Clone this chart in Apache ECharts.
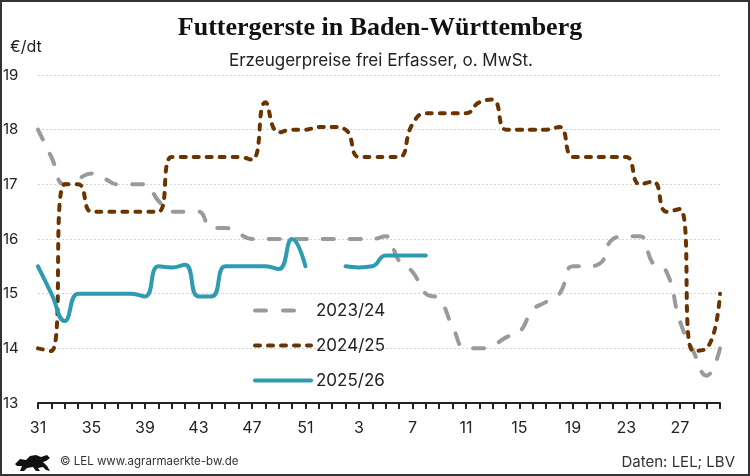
<!DOCTYPE html>
<html>
<head>
<meta charset="utf-8">
<script src="https://cdn.jsdelivr.net/npm/echarts@6/dist/echarts.min.js"></script>
<style>
html,body{margin:0;padding:0;background:#fff;}
#wrap{width:750px;height:476px;box-sizing:border-box;border:2px solid #333;position:relative;overflow:hidden;}
#chart{position:absolute;left:-2px;top:-2px;width:750px;height:476px;}
</style>
</head>
<body>
<div id="wrap"><div id="chart"></div></div>
<script>
const weeks = ['31','32','33','34','35','36','37','38','39','40','41','42','43','44','45','46','47','48','49','50','51','52',
  '1','2','3','4','5','6','7','8','9','10','11','12','13','14','15','16','17','18','19','20','21','22','23','24','25','26','27','28','29','30'];

const s2324 = [18.0,17.5,17.0,17.1,17.2,17.1,17.0,17.0,17.0,16.7,16.5,16.5,16.5,16.2,16.2,16.1,16.0,16.0,16.0,16.0,16.0,16.0,
  16.0,16.0,16.0,16.0,16.05,15.6,15.4,15.0,14.9,14.4,14.0,14.0,14.05,14.2,14.3,14.7,14.85,15.0,15.5,15.5,15.55,16.0,16.05,16.05,15.55,15.4,14.5,13.95,13.5,14.0];

const s2425 = [14.0,13.95,17.0,17.0,16.5,16.5,16.5,16.5,16.5,16.5,17.5,17.5,17.5,17.5,17.5,17.5,17.45,18.5,17.95,18.0,18.0,18.05,
  18.05,18.0,17.5,17.5,17.5,17.5,18.1,18.3,18.3,18.3,18.3,18.5,18.55,18.0,18.0,18.0,18.0,18.05,17.5,17.5,17.5,17.5,17.5,17.0,17.05,16.5,16.55,13.95,14.0,15.0];

const s2526 = [15.5,15.0,14.5,15.0,15.0,15.0,15.0,15.0,14.95,15.5,15.48,15.53,14.95,14.95,15.5,15.5,15.5,15.5,15.45,16.0,15.5,null,
  null,15.5,15.48,15.5,15.7,15.7,15.7,15.7,null,null,null,null,null,null,null,null,null,null,null,null,null,null,null,null,null,null,null,null,null,null];

const yTicks = [13,14,15,16,17,18,19];

const FONT = 'Inter, "Noto Sans", sans-serif';
const chart = echarts.init(document.getElementById('chart'));
const option = {
  animation: false,
  textStyle: {fontFamily: FONT},
  grid: {left: 38, right: 30, top: 75, bottom: 73},
  graphic: [
    {type:'text', x: 380, y: 28, style:{text:'Futtergerste in Baden-Württemberg', fontFamily:'"Liberation Serif", serif', fontWeight:'bold', fontSize:26, fill:'#111', align:'center', verticalAlign:'middle'}},
    {type:'text', x: 381, y: 61, style:{text:'Erzeugerpreise frei Erfasser, o. MwSt.', fontFamily:FONT, fontSize:17, fill:'#222', align:'center', verticalAlign:'middle'}},
    {type:'text', x: 10, y: 47, style:{text:'€/dt', fontFamily:FONT, fontSize:16, fill:'#222', align:'left', verticalAlign:'middle'}},
    {type:'text', x: 60, y: 462, style:{text:'© LEL www.agrarmaerkte-bw.de', fontFamily:FONT, fontSize:11.5, fill:'#333', align:'left', verticalAlign:'middle'}},
    {type:'text', x: 735, y: 462, style:{text:'Daten: LEL; LBV', fontFamily:FONT, fontSize:15, fill:'#333', align:'right', verticalAlign:'middle'}},
    {type:'polygon', shape:{points:[[15,464],[20,459],[26,460],[30,456],[36,455],[41,457],[47,455],[50,458],[46,461],[43,462],[47,466],[50,471],[46,470],[43,467],[38,468],[40,471],[36,471],[33,467],[27,468],[24,471],[20,471],[22,466],[17,466]]}, style:{fill:'#111'}}
  ],
  legend: {
    orient: 'vertical', left: 248, top: 297, itemWidth: 56, itemHeight: 14, itemGap: 18,
    textStyle: {fontFamily: FONT, fontSize: 17, color: '#222'},
    itemStyle: {opacity: 0},
    lineStyle: {width: 4, cap: 'round'},
    data: [
      {name:'2023/24', lineStyle:{type:[11,17], width:4, cap:'round', color:'#9a9a9a'}},
      {name:'2024/25', lineStyle:{type:[5,8], width:4, cap:'round', color:'#6b3300'}},
      {name:'2025/26'}
    ]
  },
  xAxis: {
    type: 'category', data: weeks, boundaryGap: false,
    axisLine: {lineStyle: {color: '#222', width: 2}},
    axisTick: {show: true, interval: 0, length: 6, lineStyle: {color: '#222', width: 2}},
    axisLabel: {interval: 3, fontSize: 16, color: '#222', margin: 17, fontFamily: FONT},
    splitLine: {show: false}
  },
  yAxis: {
    type: 'value', min: yTicks[0], max: yTicks[yTicks.length-1], interval: 1,
    axisLine: {show: false}, axisTick: {show: false},
    axisLabel: {fontSize: 15, color: '#222', margin: 35, align: 'left', fontFamily: FONT},
    splitLine: {lineStyle: {color: '#d4d4d4', type: [2,2], width: 1}}
  },
  series: [
    {name:'2023/24', type:'line', data:s2324, smooth:0.5, symbol:'none', color:'#9a9a9a',
      lineStyle:{color:'#9a9a9a', width:4, type:[11,16], cap:'round'}},
    {name:'2024/25', type:'line', data:s2425, smooth:0.5, symbol:'none', color:'#6b3300',
      lineStyle:{color:'#6b3300', width:4, type:[5,8], cap:'round'}},
    {name:'2025/26', type:'line', data:s2526, smooth:0.5, symbol:'none', color:'#2e9bb0',
      lineStyle:{color:'#2e9bb0', width:4, cap:'round'}}
  ]
};
chart.setOption(option);
</script>
</body>
</html>
